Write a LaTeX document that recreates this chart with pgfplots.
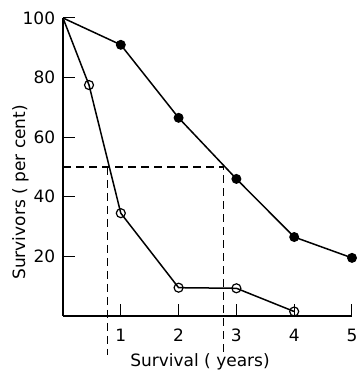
\documentclass[border=0pt]{standalone}
\usepackage{pgfplots}
\pgfplotsset{compat=1.18}
\usepackage{fontspec}
\setmainfont{DejaVu Sans}
\begin{document}
\fontsize{17}{20}\selectfont
\begin{tikzpicture}
\useasboundingbox (-63pt,-58pt) rectangle (294pt,316pt);
\begin{axis}[
  at={(0,0)}, anchor=south west,
  scale only axis, width=289pt, height=298pt,
  xmin=0, xmax=5, ymin=0, ymax=100,
  axis lines=left,
  axis line style={-, line width=1.2pt},
  tick align=inside,
  major tick length=12pt,
  tick style={line width=1pt, black},
  xtick={1,2,3,4,5}, ytick={20,40,60,80,100},
  /pgf/number format/assume math mode=true,
  ticklabel style={font=\fontsize{17}{20}\selectfont},
  xticklabel style={yshift=-7pt},
  yticklabel style={xshift=-2pt},
  clip=false,
]
\addplot[black, line width=1.5pt, mark=*, mark size=4.2pt, mark indices={2,3,4,5,6}]
  coordinates {(0,100) (1,91) (2,66.5) (3,46) (4,26.5) (5,19.5)};
\addplot[black, line width=1.5pt, mark=o, mark size=4.5pt, mark options={fill=white, line width=1.2pt}, mark indices={2,3,4,5,6}]
  coordinates {(0,100) (0.45,77.5) (1,34.5) (2,9.5) (3,9.3) (4,1.5)};
\addplot[black, line width=1.2pt, dash pattern=on 8pt off 5pt]
  coordinates {(0,50) (2.78,50) (2.78,-13)};
\addplot[black, line width=1.2pt, dash pattern=on 8pt off 5pt]
  coordinates {(0.77,50) (0.77,-13)};
\node[anchor=base] at (axis cs:2.37,0) [yshift=-51pt] {Survival ( years)};
\node[anchor=base, rotate=90] at (axis cs:-0.657,41.5) {Survivors ( per cent)};
\end{axis}
\end{tikzpicture}
\end{document}
